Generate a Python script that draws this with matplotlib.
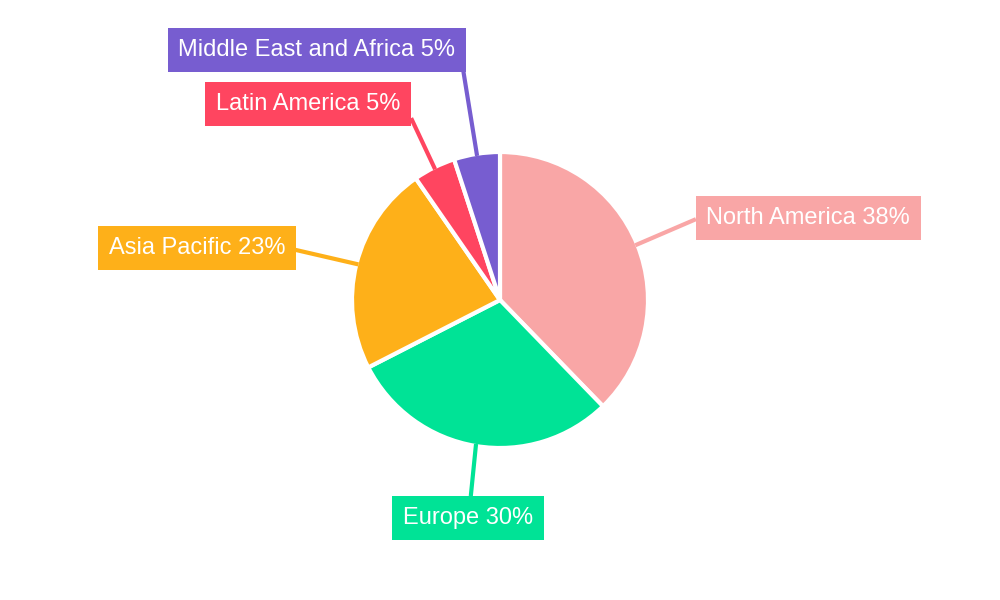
import matplotlib.pyplot as plt
import numpy as np

regions = ['North America', 'Europe', 'Asia Pacific', 'Latin America', 'Middle East and Africa']
shares = [37.6, 29.6, 22.8, 4.6, 5.0]
share_labels = ['38%', '30%', '23%', '5%', '5%']
colors = ['#F9A6A6', '#00E396', '#FEB019', '#FF4560', '#775DD0']

# label box centres and leader-line ends (pixel coords, y down)
box_centres = [(808, 216), (468, 516), (197, 246), (308, 102), (317, 48)]
line_ends = [(694, 220), (471, 494), (296, 250), (412, 120), (463, 69)]

H = 600
cx, cy, R = 500, 300, 148

fig = plt.figure(figsize=(10, 6), dpi=100)
ax = fig.add_axes([0, 0, 1, 1])
ax.set_xlim(0, 1000)
ax.set_ylim(0, H)
ax.axis('off')

ax.pie(shares, colors=colors, startangle=90, counterclock=False,
       center=(cx, H - cy), radius=R,
       wedgeprops=dict(edgecolor='white', linewidth=3))
ax.set_xlim(0, 1000)
ax.set_ylim(0, H)
ax.set_aspect('equal')

total = sum(shares)
start = 90.0
for name, s, lab, col, bc, le in zip(regions, shares, share_labels, colors, box_centres, line_ends):
    mid = np.deg2rad(start - s / total * 360 / 2)
    start -= s / total * 360
    px = cx + R * np.cos(mid)
    py = H - cy + R * np.sin(mid)
    ax.plot([px, le[0]], [py, H - le[1]], color=col, lw=3, zorder=1)
    ax.text(bc[0], H - bc[1] - 2, f'{name} {lab}', ha='center', va='center',
            fontsize=17, color='white', family='Liberation Sans',
            bbox=dict(boxstyle='square,pad=0.45', fc=col, ec='none'), zorder=3)

fig.savefig('out.png', dpi=100)
